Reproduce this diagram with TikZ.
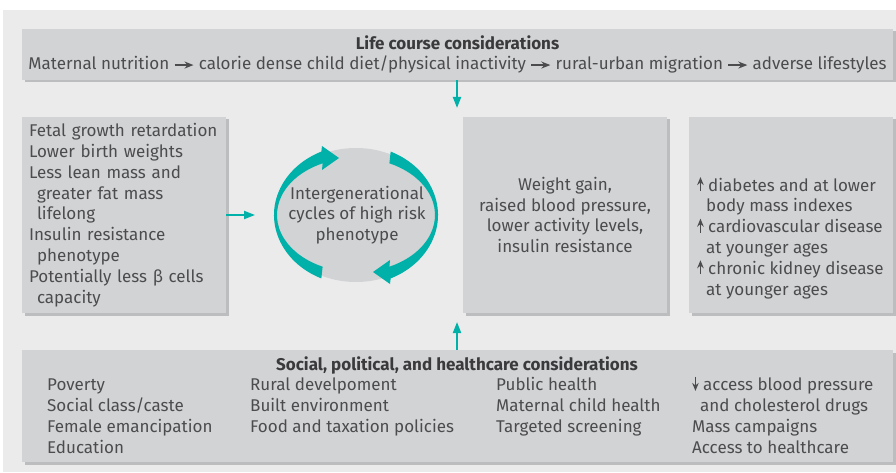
\documentclass[tikz,border=0pt]{standalone}
\usepackage{fontspec}
\setmainfont{Fira Sans}
\usetikzlibrary{arrows.meta, shapes.geometric, shadows, positioning}
\definecolor{canvas}{HTML}{EBEBEC}
\definecolor{boxgray}{HTML}{D2D3D5}
\definecolor{boxshade}{HTML}{BCBDBF}
\definecolor{ink}{HTML}{4C4C4E}
\definecolor{inkdark}{HTML}{3A3A3C}
\definecolor{cycleteal}{HTML}{00B1AA}
\newcommand\steparrow{\tikz[baseline=-0.55ex]\draw[ink, line width=1.5pt, -{Stealth[length=9pt, width=7pt]}] (0,0) -- (19pt,0);}
\newcommand\uptick{\tikz[baseline=0pt]\draw[ink, line width=1.4pt, -{Stealth[length=8pt, width=6.5pt]}] (0,0) -- (0,14pt);}
\newcommand\downtick{\tikz[baseline=0pt]\draw[ink, line width=1.4pt, -{Stealth[length=8pt, width=6.5pt]}] (0,14pt) -- (0,0);}

\begin{document}
\begin{tikzpicture}
    [
        x=1pt, y=1pt,
        every node/.style={font=\fontsize{17}{20.8}\selectfont, text=ink},
        box/.style={rectangle, fill=boxgray, inner sep=0pt, drop shadow={shadow xshift=2.5pt, shadow yshift=-2.5pt, fill=boxshade, opacity=1}},
        note/.style={inner sep=0pt, align=left},
        flow/.style={cycleteal, line width=2pt, -{Triangle[length=11pt, width=8pt]}},
    ]
    \useasboundingbox (0,0) rectangle (896,472);
    \fill[canvas] (3,0) rectangle (896,462);

    \node (lifecourse) at (457.5,417.5) [box, minimum width=871pt, minimum height=51pt, align=center]
        {\textbf{\color{inkdark}Life course considerations}\\Maternal nutrition \steparrow{} calorie dense child diet/physical inactivity \steparrow{} rural-urban migration \steparrow{} adverse lifestyles};

    \node (early) at (124,257) [box, minimum width=204pt, minimum height=196pt, text width=190pt, align=left]
        {Fetal growth retardation\\Lower birth weights\\Less lean mass and\\\hspace*{8pt}greater fat mass\\\hspace*{8pt}lifelong\\Insulin resistance\\\hspace*{8pt}phenotype\\Potentially less β cells\\\hspace*{8pt}capacity};

    \node (cycle) at (356,257) [ellipse, fill=boxgray, minimum width=162pt, minimum height=134pt, inner sep=0pt] {};
    \node (cycletext) at (357,257) [align=center, inner sep=0pt] {Intergenerational\\cycles of high risk\\phenotype};
    \foreach \turn in {0,180}
        \fill[cycleteal, rotate around={\turn:(356,257)}]
            ([shift={(356,257)}]245:82 and 70) arc[start angle=245, end angle=115, x radius=82, y radius=70]
            -- (322,326) -- (339,314) -- (322,302)
            -- ([shift={(356,257)}]115:79 and 57) arc[start angle=115, end angle=245, x radius=79, y radius=57] -- cycle;

    \node (metabolic) at (565,257) [box, minimum width=204pt, minimum height=196pt, align=center]
        {Weight gain,\\raised blood pressure,\\lower activity levels,\\insulin resistance};

    \node (disease) at (791,257) [box, minimum width=204pt, minimum height=196pt] {};
    \node (diseasetext) at (697,234.5) [note, anchor=west]
        {\uptick\ diabetes and at lower\\\hspace*{9pt}body mass indexes\\\uptick\ cardiovascular disease\\\hspace*{9pt}at younger ages\\\uptick\ chronic kidney disease\\\hspace*{9pt}at younger ages};

    \node (social) at (457.5,66) [box, minimum width=871pt, minimum height=112pt] {};
    \node (socialtitle) at (457,107) {\textbf{\color{inkdark}Social, political, and healthcare considerations}};
    \node (socialcols) at (47,96) [note, anchor=north west]
        {\begin{tabular}{@{}p{203pt}@{}p{246pt}@{}p{196pt}@{}l@{}}
            Poverty & Rural develpoment & Public health & \downtick\ access blood pressure\\
            Social class/caste & Built environment & Maternal child health & \hspace*{8pt}and cholesterol drugs\\
            Female emancipation & Food and taxation policies & Targeted screening & Mass campaigns\\
            Education & & & Access to healthcare
        \end{tabular}};

    \coordinate (lifetip) at (457,364);
    \coordinate (socialtip) at (457,150);
    \coordinate (earlytip) at (255,257);
    \draw[flow] (lifecourse.south -| lifetip) -- (lifetip);
    \draw[flow] (social.north -| socialtip) -- (socialtip);
    \draw[flow] (early.east) -- (earlytip);
\end{tikzpicture}
\end{document}
